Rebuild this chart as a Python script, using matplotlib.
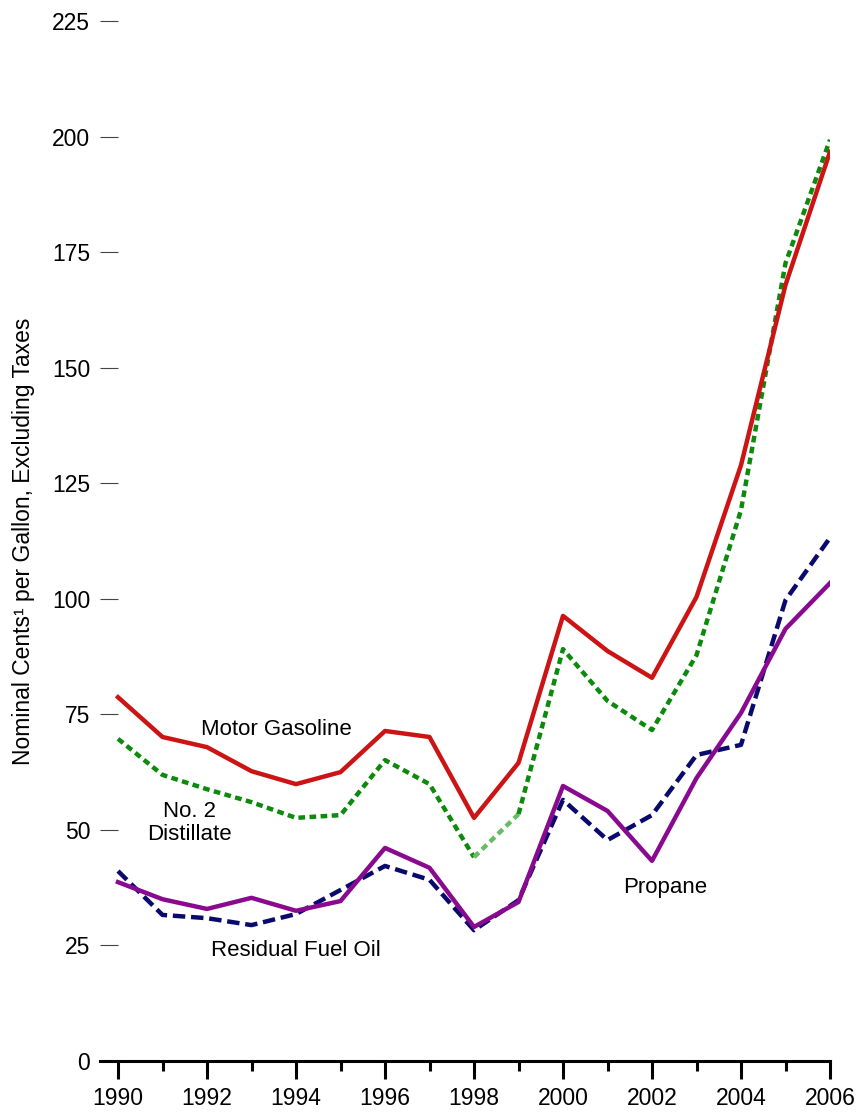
import matplotlib
matplotlib.use("Agg")
import matplotlib.pyplot as plt
from matplotlib.ticker import MultipleLocator

plt.rcParams['font.family'] = ['Liberation Sans', 'DejaVu Sans']

years = list(range(1990, 2007))
motor_gasoline = [78.7, 70.1, 67.9, 62.7, 59.9, 62.5, 71.4, 70.1, 52.6, 64.5,
                  96.3, 88.7, 82.9, 100.4, 128.9, 167.9, 196.7]
distillate = [69.7, 61.9, 58.8, 56.0, 52.6, 53.2, 65.1, 59.9, 44.1, 53.4,
              89.1, 77.9, 71.6, 87.8, 119.2, 172.6, 199.3]
residual = [41.1, 31.6, 30.9, 29.4, 31.8, 37.0, 42.2, 39.2, 28.3, 34.8,
            56.5, 47.8, 53.2, 66.2, 68.4, 99.7, 113.2]
propane = [38.7, 35.0, 32.9, 35.3, 32.5, 34.6, 46.1, 41.8, 29.0, 34.4,
           59.5, 54.1, 43.3, 61.2, 75.3, 93.5, 103.4]

W, H = 862, 1112
fig = plt.figure(figsize=(W/100, H/100), dpi=100)
ax = fig.add_axes([100/W, (H-1061)/H, 730/W, 1040/H])

lw = 3.2
ax.plot(years, residual, color='#0a0a6e', lw=lw, dashes=(2.8, 1.3), zorder=2)
ax.plot(years, propane, color='#8a0a8f', lw=lw, zorder=3)
# distillate: light segment 1998-1999
i98 = years.index(1998)
ax.plot(years[:i98+1], distillate[:i98+1], color='#0b8a0b', lw=lw, dashes=(1.5, 1.0), zorder=2)
ax.plot(years[i98:i98+2], distillate[i98:i98+2], color='#66bb66', lw=lw, dashes=(1.5, 1.0), zorder=2)
ax.plot(years[i98+1:], distillate[i98+1:], color='#0b8a0b', lw=lw, dashes=(1.5, 1.0), zorder=2)
ax.plot(years, motor_gasoline, color='#cc1414', lw=lw, zorder=4)

ax.set_xlim(1990 - 18/44.5, 2006)
ax.set_ylim(0, 225)

ax.xaxis.set_major_locator(MultipleLocator(2))
ax.xaxis.set_minor_locator(MultipleLocator(1))
ax.yaxis.set_major_locator(MultipleLocator(25))

for s in ['left', 'top', 'right']:
    ax.spines[s].set_visible(False)
ax.spines['bottom'].set_linewidth(2.2)
ax.tick_params(axis='x', which='major', length=13, width=2.2, labelsize=16.5, pad=6)
ax.tick_params(axis='x', which='minor', length=7, width=2.2)
ax.tick_params(axis='y', which='major', direction='in', length=13, width=0.8,
               color='#444444', labelsize=16.5, pad=7)

ax.set_ylabel('Nominal Cents\u00b9 per Gallon, Excluding Taxes', fontsize=16.5, labelpad=12)

tk = dict(fontsize=16, ha='center', va='center')
ax.text(1993.55, 71.7, 'Motor Gasoline', **tk)
ax.text(1991.6, 54.0, 'No. 2', **tk)
ax.text(1991.6, 49.0, 'Distillate', **tk)
ax.text(1994.0, 24.0, 'Residual Fuel Oil', **tk)
ax.text(2002.3, 37.6, 'Propane', **tk)

fig.savefig('out.png', dpi=100)
